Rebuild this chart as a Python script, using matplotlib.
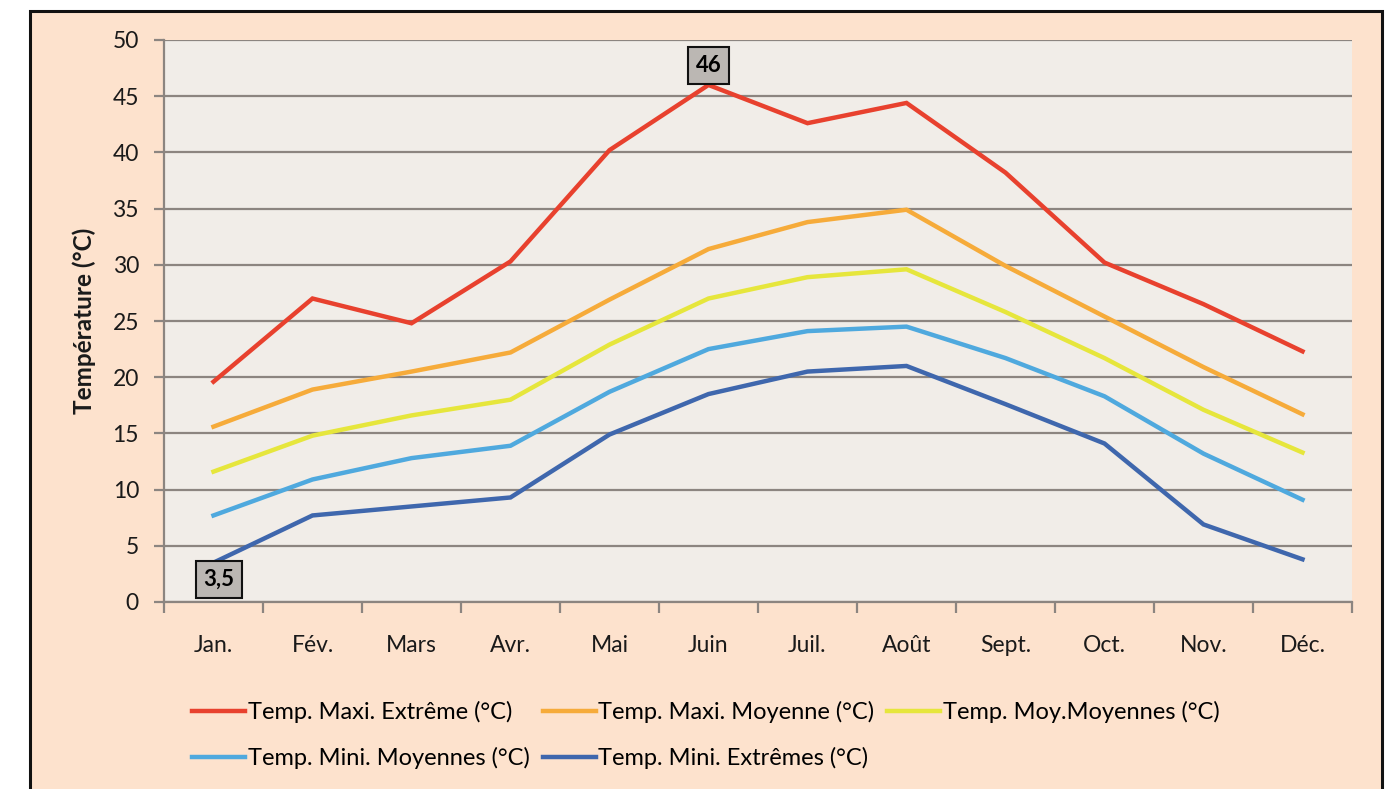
import matplotlib
matplotlib.use("Agg")
import matplotlib.pyplot as plt
from matplotlib.patches import Rectangle

plt.rcParams['font.family'] = ['Lato', 'DejaVu Sans']

months = ["Jan.", "Fév.", "Mars", "Avr.", "Mai", "Juin", "Juil.", "Août", "Sept.", "Oct.", "Nov.", "Déc."]
maxi_extreme = [19.6, 27.0, 24.8, 30.3, 40.2, 46.0, 42.6, 44.4, 38.2, 30.2, 26.5, 22.3]
maxi_moyenne = [15.6, 18.9, 20.5, 22.2, 26.9, 31.4, 33.8, 34.9, 29.9, 25.4, 20.9, 16.7]
moy_moyennes = [11.6, 14.8, 16.6, 18.0, 22.9, 27.0, 28.9, 29.6, 25.8, 21.7, 17.1, 13.3]
mini_moyennes = [7.7, 10.9, 12.8, 13.9, 18.7, 22.5, 24.1, 24.5, 21.7, 18.3, 13.2, 9.1]
mini_extremes = [3.5, 7.7, 8.5, 9.3, 14.9, 18.5, 20.5, 21.0, 17.6, 14.1, 6.9, 3.8]

series = [
    ("Temp. Maxi. Extrême (°C)", maxi_extreme, "#E8412E"),
    ("Temp. Maxi. Moyenne (°C)", maxi_moyenne, "#F6AB3A"),
    ("Temp. Moy.Moyennes (°C)", moy_moyennes, "#E6E63C"),
    ("Temp. Mini. Moyennes (°C)", mini_moyennes, "#4FA9DE"),
    ("Temp. Mini. Extrêmes (°C)", mini_extremes, "#3F67AD"),
]

W, H = 1392, 789
fig = plt.figure(figsize=(W / 100, H / 100), dpi=100)
fig.patch.set_facecolor("white")

# peach panel with dark border
fig.patches.append(Rectangle((30 / W, -0.05), (1382 - 30) / W, (H - 11) / H + 0.05,
                             transform=fig.transFigure, facecolor="#FDE2CD",
                             edgecolor="#111111", linewidth=2.2, zorder=-5))

ax = fig.add_axes([164 / W, 1 - 602 / H, (1352 - 164) / W, (602 - 40) / H])
ax.set_facecolor("#F1EDE8")

x = list(range(len(months)))
handles = []
for label, vals, col in series:
    h, = ax.plot(x, vals, color=col, linewidth=3.2, label=label, solid_joinstyle="miter", zorder=3)
    handles.append(h)

ax.set_xlim(-0.5, len(months) - 0.5)
ax.set_ylim(0, 50)
ax.set_yticks(range(0, 51, 5))
ax.yaxis.grid(True, color="#8C8580", linewidth=1.6, zorder=1)
ax.set_axisbelow(True)
ax.set_xticks(x)
ax.set_xticklabels(months)
ax.set_xticks([i - 0.5 for i in range(len(months) + 1)], minor=True)
ax.tick_params(axis="x", which="major", length=0, pad=24, labelsize=16.5, colors="#1a1a1a")
ax.tick_params(axis="x", which="minor", length=8, width=1.6, color="#8C8580", direction="out")
ax.tick_params(axis="y", length=7, width=1.6, color="#8C8580", labelsize=16.5, pad=11, labelcolor="#1a1a1a")
for s in ["top", "right"]:
    ax.spines[s].set_visible(False)
for s in ["left", "bottom"]:
    ax.spines[s].set_color("#8C8580")
    ax.spines[s].set_linewidth(1.6)

ax.set_ylabel("Température (°C)", fontsize=17.5, fontweight="bold", labelpad=12, color="#1a1a1a")

bbox = dict(boxstyle="square,pad=0.35", facecolor="#BBB7B3", edgecolor="#111111", linewidth=1.5)
ax.annotate("46", xy=(5, maxi_extreme[5]), xytext=(0, 14), textcoords="offset points",
            ha="center", va="center", fontsize=16, fontweight="bold", bbox=bbox, zorder=5)
ax.annotate("3,5", xy=(0, mini_extremes[0]), xytext=(4, -12), textcoords="offset points",
            ha="center", va="center", fontsize=16, fontweight="bold", bbox=bbox, zorder=5)

# row-major ordering for a 3-column legend
order = [0, 3, 1, 4, 2]
leg = fig.legend([handles[i] for i in order], [series[i][0] for i in order],
                 loc="upper left", bbox_to_anchor=(171 / W, 1 - 680 / H), ncol=3, frameon=False,
                 fontsize=17, handlelength=2.25, handletextpad=0.1, columnspacing=0.55,
                 labelspacing=1.0)
for line in leg.get_lines():
    line.set_linewidth(3.2)

fig.savefig("out.png", dpi=100, facecolor=fig.get_facecolor())
